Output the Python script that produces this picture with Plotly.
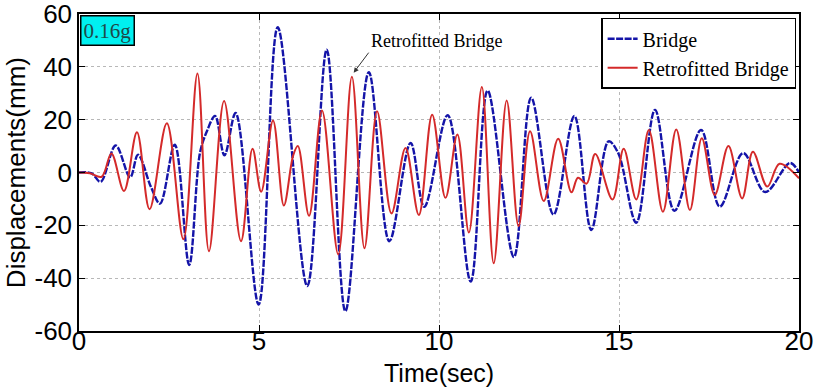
import plotly.graph_objects as go

# ---- data ----
bridge_t = [0, 0.35, 0.6, 1.02, 1.42, 1.64, 2.0, 2.25, 2.66, 3.06, 3.36, 3.55, 3.78,
            4.04, 4.35, 4.99, 5.52, 6.34, 6.88, 7.40, 8.05, 8.62, 9.21, 9.59, 10.24,
            10.88, 11.35, 12.08, 12.56, 13.18, 13.76, 14.23, 14.71, 14.98, 15.48,
            16.0, 16.54, 17.28, 17.8, 18.45, 19.06, 19.75, 20]
bridge_d = [0, -0.3, -3.5, 10.2, -1.8, 6.7, -5.5, -11.8, 10.5, -35, 7.4, 15.5, 21.4,
            6.5, 22.5, -50, 55, -43, 46.5, -52.5, 38, -26, 11.2, -13, 21.7,
            -41.3, 31, -32, 28.3, -15.9, 21.4, -21.8, 11.8, 7.3, -19,
            23.7, -14.5, 16.1, -12.9, 7.3, -7.4, 3.6, 0]

retro_t = [0, 0.3, 0.63, 0.9, 1.25, 1.61, 1.96, 2.44, 2.9, 3.29, 3.61, 4.03, 4.5,
           4.82, 5.06, 5.39, 5.69, 5.95, 6.08, 6.39, 6.75, 7.20, 7.58, 7.93, 8.28,
           8.68, 9.07, 9.44, 9.81, 10.18, 10.51, 10.83, 11.19, 11.52, 11.88, 12.21,
           12.53, 12.91, 13.31, 13.68, 13.86, 14.1, 14.34, 14.82, 15.13, 15.48,
           15.83, 16.22, 16.59, 16.97, 17.3, 17.66, 18.04, 18.42, 18.72, 19.12,
           19.46, 20]
retro_d = [0, -0.3, -1.6, 7.2, -7, 15.2, -13.9, 18.6, -25.3, 37.5, -29.8, 27.1, -26,
           9, -7.3, 19.7, -12.5, 6.5, 10, -16.4, 23.5, -31, 36.2, -28.7, 23.2,
           -15.5, 9.3, -16.1, 21.9, -9.6, 14.4, -22.7, 32.4, -34.4, 27.3, -20.3,
           15.6, -10.8, 12.8, -7.5, -2, -4.2, 7, -10.2, 9.0, -10.2,
           16.1, -14.9, 16.3, -14.2, 13.0, -8.5, 10, -9.8, 7.9, -5.3,
           3.3, -2.2]

x_ticks = [0, 5, 10, 15, 20]
y_ticks = [-60, -40, -20, 0, 20, 40, 60]

BLUE = "#1414a8"
RED = "#d42a2a"
SANS = "Liberation Sans, Arial, sans-serif"
SERIF = "Liberation Serif, Times New Roman, serif"

fig = go.Figure()
fig.add_trace(go.Scatter(
    x=bridge_t, y=bridge_d, mode="lines", name="Bridge",
    line=dict(color=BLUE, width=2.4, dash="7px,1.5px", shape="spline", smoothing=1.0),
))
fig.add_trace(go.Scatter(
    x=retro_t, y=retro_d, mode="lines", name="Retrofitted Bridge",
    line=dict(color=RED, width=2.0, shape="spline", smoothing=1.0),
))

axis_common = dict(
    showline=True, linecolor="black", linewidth=1.5, mirror="ticks",
    ticks="inside", ticklen=6, tickwidth=1.2, tickcolor="black",
    showgrid=True, gridcolor="#b8b8b8", gridwidth=1, griddash="dot",
    zeroline=False, tickfont=dict(family=SANS, size=26, color="black"),
    automargin=False, ticklabeloverflow="allow",
)

fig.update_xaxes(
    range=[0, 20], tickvals=x_ticks, ticktext=[str(v) for v in x_ticks],
    ticklabelstandoff=-14,
    **axis_common,
)
fig.update_yaxes(
    range=[-60, 60], tickvals=y_ticks, ticktext=[str(v) for v in y_ticks],
    ticklabelstandoff=0,
    **axis_common,
)

fig.update_layout(
    width=816, height=387,
    margin=dict(l=79, r=17, t=14, b=56),
    paper_bgcolor="white", plot_bgcolor="white",
    showlegend=True,
    legend=dict(
        x=0.996, y=0.988, xanchor="right", yanchor="top",
        bgcolor="white", bordercolor="black", borderwidth=1.5,
        font=dict(family=SERIF, size=20, color="black"),
        itemwidth=30, tracegroupgap=0,
    ),
    annotations=[
        dict(
            text="Time(sec)", xref="paper", yref="paper", x=0.5, y=-0.131,
            xanchor="center", yanchor="middle", showarrow=False,
            font=dict(family=SANS, size=25, color="black"),
        ),
        dict(
            text="Displacements(mm)", xref="paper", yref="paper", x=-0.088, y=0.5,
            xanchor="center", yanchor="middle", showarrow=False, textangle=-90,
            font=dict(family=SANS, size=26, color="black"),
        ),
        dict(
            text="0.16g", xref="paper", yref="paper", x=0.002, y=0.997,
            xanchor="left", yanchor="top", showarrow=False,
            font=dict(family=SERIF, size=21, color="#1e4a4a"),
            bgcolor="#00f0f0", bordercolor="black", borderwidth=1.5, borderpad=2,
        ),
        dict(
            text="Retrofitted Bridge", x=7.63, y=37.8, xref="x", yref="y",
            showarrow=True, ax=15, ay=-20, xanchor="left", yanchor="bottom",
            arrowhead=2, arrowsize=1, arrowwidth=1, arrowcolor="#333333",
            font=dict(family=SERIF, size=18, color="black"),
        ),
    ],
)

fig.write_html("out.html")
